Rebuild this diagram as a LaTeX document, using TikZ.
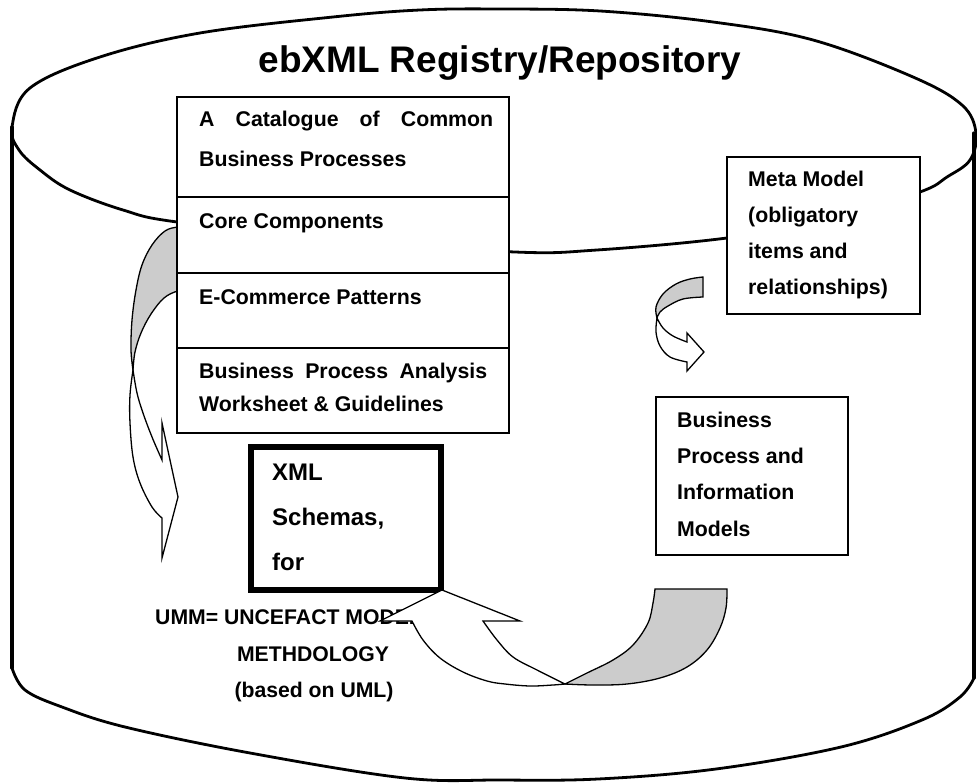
\documentclass[tikz,border=0pt]{standalone}
\usepackage{fontspec}
\setmainfont{Liberation Sans}
\newcommand{\bfbody}{\fontsize{21.3}{21.3}\selectfont\bfseries}
\newcommand{\bfxml}{\fontsize{24}{24}\selectfont\bfseries}
\newcommand{\bfumm}{\fontsize{21.2}{21.2}\selectfont\bfseries}
\newcommand{\bftitle}{\fontsize{37}{37}\selectfont\bfseries}
\begin{document}
\begin{tikzpicture}[x=1pt,y=-1pt,
  cyl/.style={line width=2.8pt, line join=round, line cap=round},
  arrowshape/.style={draw=black, line width=1.3pt, line join=miter},
  greypart/.style={arrowshape, fill=black!20},
  whitepart/.style={arrowshape, fill=white},
  box/.style={draw=black, line width=2pt, fill=white, inner sep=0pt, outer sep=0pt, anchor=north west},
  divider/.style={line width=2pt},
  txt/.style={anchor=base west, inner sep=0pt, font=\bfbody},
  xtxt/.style={anchor=base west, inner sep=0pt, font=\bfxml},
  utxt/.style={inner sep=0pt, font=\bfumm},
]
\useasboundingbox (0,0) rectangle (977,783);

% cylinder
\draw[cyl] plot[smooth cycle, tension=0.6] coordinates {(12,127) (30,88) (100,57) (200,33) (333,17) (420,10) (500,9) (600,11) (713,22) (813,40) (913,77) (962,105) (976,133) (970,160) (947,177) (920,192) (830,220) (727,238) (597,250) (515,252) (345,240) (177,222) (123,210) (70,190) (40,170) (19,150)};
\draw[cyl, line width=3.2pt] (12,127) -- (12,668);
\draw[cyl, line width=3.2pt] (974,133) -- (974,678);
\draw[cyl] plot[smooth, tension=0.6] coordinates {(12,668) (25,690) (62,707) (125,727) (250,753) (405,778) (500,780) (598,779) (716,769) (841,747) (922,720) (960,697) (974,678)};

% title
\node[anchor=base, inner sep=0pt, font=\bftitle] (title) at (500,73) {ebXML Registry/Repository};

% left curved arrow
\draw[greypart] plot[smooth, tension=0.6] coordinates {(190,227) (178,227) (165,231) (152,245) (142,265) (136,290) (132,320) (131,350) (133,370)} -- plot[smooth, tension=0.6] coordinates {(133,370) (135,352) (141,333) (151,314) (164,298) (178,291) (190,291)} -- cycle;
\draw[whitepart] plot[smooth, tension=0.6] coordinates {(133,370) (137,393) (143,413) (152,437) (162,460)} -- (162,423) -- (178,497) -- (162,558) -- plot[smooth, tension=0.6] coordinates {(162,518) (152,507) (140,483) (133,457) (130,423) (130,395) (133,370)} -- cycle;

% stack of boxes
\node[box, minimum width=332pt, minimum height=336pt] (stack) at (177,97) {};
\draw[divider] (177,197) -- (509,197);
\draw[divider] (177,273) -- (509,273);
\draw[divider] (177,348) -- (509,348);
\node[txt] (t1) at (199,127) {\hbox to 294pt{A\hfill Catalogue\hfill of\hfill Common}};
\node[txt] (t2) at (199,167) {Business Processes};
\node[txt] (t3) at (199,229) {Core Components};
\node[txt] (t4) at (199,305) {E-Commerce Patterns};
\node[txt] (t5) at (199,378) {\hbox to 288pt{Business\hfill Process\hfill Analysis}};
\node[txt] (t6) at (199,411) {Worksheet \& Guidelines};

% meta model
\node[box, minimum width=193pt, minimum height=157pt] (meta) at (727,157) {};
\node[txt] (m1) at (748,187) {Meta Model};
\node[txt] (m2) at (748,223) {(obligatory};
\node[txt] (m3) at (748,259) {items and};
\node[txt] (m4) at (748,295) {relationships)};

% small arrow
\draw[greypart] (703,277) -- plot[smooth, tension=0.6] coordinates {(703,297) (683,299) (668,306) (660,312) (657,318)} -- plot[smooth, tension=0.6] coordinates {(657,318) (656,307) (663,294) (676,284) (690,279) (703,277)} -- cycle;
\draw[whitepart] plot[smooth, tension=0.6] coordinates {(657,318) (656,332) (660,346) (670,357) (687,362)} -- (687,371) -- (704,352) -- (687,333) -- plot[smooth, tension=0.6] coordinates {(687,342) (673,336) (663,328) (657,318)} -- cycle;

% business process box
\node[box, minimum width=192pt, minimum height=158pt] (bpim) at (656,397) {};
\node[txt] (b1) at (677,427) {Business};
\node[txt] (b2) at (677,463) {Process and};
\node[txt] (b3) at (677,499) {Information};
\node[txt] (b4) at (677,536) {Models};

% UMM text
\node[utxt, anchor=base west] (u1) at (155,624) {UMM= UNCEFACT MODEL};
\node[utxt, anchor=base] (u2) at (313,661) {METHDOLOGY};
\node[utxt, anchor=base] (u3) at (314,697) {(based on UML)};

% XML box
\node[box, line width=6pt, minimum width=190.5pt, minimum height=143.5pt] (xml) at (250.5,446.5) {};
\node[xtxt] (x1) at (272,480) {XML};
\node[xtxt] (x2) at (272,525) {Schemas,};
\node[xtxt] (x3) at (272,570) {for};

% bottom big arrow
\draw[greypart] (655,589) -- plot[smooth, tension=0.6] coordinates {(727,589) (726,608) (720,628) (707,650) (687,667) (660,678) (627,684) (593,685) (565,684)} -- plot[smooth, tension=0.6] coordinates {(565,684) (587,673) (613,660) (633,645) (648,623) (653,603) (655,589)} -- cycle;
\draw[whitepart] plot[smooth, tension=0.6] coordinates {(565,684) (553,685) (530,686) (505,684) (487,681) (463,672) (440,658) (423,640) (412,621)} -- (380,621) -- (442,590) -- (520,621) -- plot[smooth, tension=0.6] coordinates {(483,621) (497,640) (513,657) (537,670) (565,684)} -- cycle;
\end{tikzpicture}
\end{document}
